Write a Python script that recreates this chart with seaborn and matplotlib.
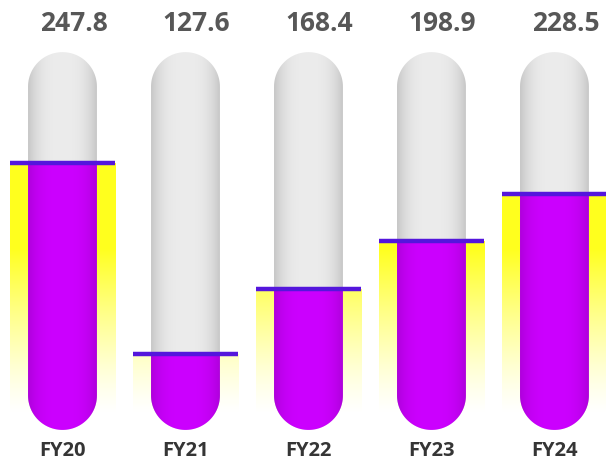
import numpy as np
import pandas as pd
import matplotlib
matplotlib.use("Agg")
import matplotlib.pyplot as plt
import seaborn as sns
from matplotlib.path import Path
from matplotlib.patches import PathPatch
from matplotlib.transforms import IdentityTransform

# ---- data -------------------------------------------------------------
years = ["FY20", "FY21", "FY22", "FY23", "FY24"]
values = [247.8, 127.6, 168.4, 198.9, 228.5]

# value range covered by the tube
tube_bottom = 79.8
tube_top = 317.5

# ---- styling ----------------------------------------------------------
sns.set_theme(style="white")
plt.rcParams["font.family"] = ["Open Sans", "DejaVu Sans"]

PURPLE = np.array([0.80, 0.0, 1.0])
GREY = np.array([0.925, 0.925, 0.925])
LINE = "#5416dc"
GLOW = np.array([1.0, 1.0, 0.12])

W, H, DPI = 606, 466, 100
fig = plt.figure(figsize=(W / DPI, H / DPI), dpi=DPI)
ax = fig.add_axes([0, 0, 1, 1])

df = pd.DataFrame({"year": years, "value": values})

# wide glow bars and the narrower tube-fill bars
sns.barplot(data=df, x="year", y="value", width=0.86, color="yellow",
            saturation=1, errorbar=None, ax=ax)
glow_bars = list(ax.patches)
sns.barplot(data=df, x="year", y="value", width=0.56, color="#cc00ff",
            saturation=1, errorbar=None, ax=ax)
fill_bars = list(ax.patches)[len(glow_bars):]

XLIM = (-0.508, 4.419)
YLIM = (57.1, 350.3)
ax.set_xlim(*XLIM)
ax.set_ylim(*YLIM)
ax.axis("off")

to_disp = ax.transData.transform


def capsule_path(x0, x1, y0, y1, round_top=True, n=60):
    """Capsule outline in display pixels between data x0..x1 and y0..y1."""
    (px0, py0), (px1, py1) = to_disp([(x0, y0), (x1, y1)])
    r = (px1 - px0) / 2.0
    cx = (px0 + px1) / 2.0
    pts = []
    if round_top:
        ang = np.linspace(0, np.pi, n)
        pts += list(zip(cx + r * np.cos(ang), py1 - r + r * np.sin(ang)))
    else:
        pts += [(px1, py1), (px0, py1)]
    ang = np.linspace(np.pi, 2 * np.pi, n)
    pts += list(zip(cx + r * np.cos(ang), py0 + r + r * np.sin(ang)))
    pts.append(pts[0])
    codes = [Path.MOVETO] + [Path.LINETO] * (len(pts) - 2) + [Path.CLOSEPOLY]
    return Path(pts, codes)


def horizontal_shade(base, depth, power, m=200):
    t = np.linspace(-1, 1, m)
    k = 1 - depth * np.abs(t) ** power
    img = base[None, None, :] * k[None, :, None]
    return np.clip(img, 0, 1)


# vertical glow gradient: strong yellow up high, fading to white toward the base
N = 400
rows = np.linspace(YLIM[0], YLIM[1], N)
pix_from_top = H - (to_disp(np.column_stack([np.zeros(N), rows]))[:, 1])
alpha = np.clip((415 - pix_from_top) / 165.0, 0, 1) ** 1.3
glow_img = np.zeros((N, 1, 4))
glow_img[..., :3] = GLOW
glow_img[:, 0, 3] = alpha

for gb in glow_bars:
    gb.set_facecolor("none")
    gb.set_edgecolor("none")
    im = ax.imshow(glow_img, extent=(XLIM[0], XLIM[1], YLIM[0], YLIM[1]),
                   origin="lower", aspect="auto", zorder=1,
                   interpolation="bilinear")
    im.set_clip_path(gb)

grey_img = horizontal_shade(GREY, 0.16, 3)
purple_img = horizontal_shade(PURPLE, 0.14, 3)

for fb, val in zip(fill_bars, values):
    x0 = fb.get_x()
    x1 = x0 + fb.get_width()
    fb.set_visible(False)

    # grey tube
    tube = PathPatch(capsule_path(x0, x1, tube_bottom, tube_top),
                     transform=IdentityTransform(), facecolor="none",
                     edgecolor="none")
    ax.add_patch(tube)
    im = ax.imshow(grey_img, extent=(x0, x1, tube_bottom, tube_top),
                   origin="lower", aspect="auto", zorder=2,
                   interpolation="bilinear")
    im.set_clip_path(tube)

    # purple fill up to the value
    fill = PathPatch(capsule_path(x0, x1, tube_bottom, val, round_top=False),
                     transform=IdentityTransform(), facecolor="none",
                     edgecolor="none")
    ax.add_patch(fill)
    im = ax.imshow(purple_img, extent=(x0, x1, tube_bottom, val),
                   origin="lower", aspect="auto", zorder=3,
                   interpolation="bilinear")
    im.set_clip_path(fill)

# level markers across the glow width
for gb, val in zip(glow_bars, values):
    ax.hlines(val, gb.get_x(), gb.get_x() + gb.get_width(), color=LINE,
              lw=3.2, zorder=4)

# labels
for i, (yr, val) in enumerate(zip(years, values)):
    ax.text(i + 0.09, 335.5, f"{val:.1f}", ha="center", va="center",
            fontsize=19, fontweight="bold", color="#575757", zorder=5)
    ax.text(i, 66.6, yr, ha="center", va="center", fontsize=14.5,
            fontweight="bold", color="#353535", zorder=5)

ax.set_xlim(*XLIM)
ax.set_ylim(*YLIM)
fig.savefig("out.png", dpi=DPI, facecolor="white")
